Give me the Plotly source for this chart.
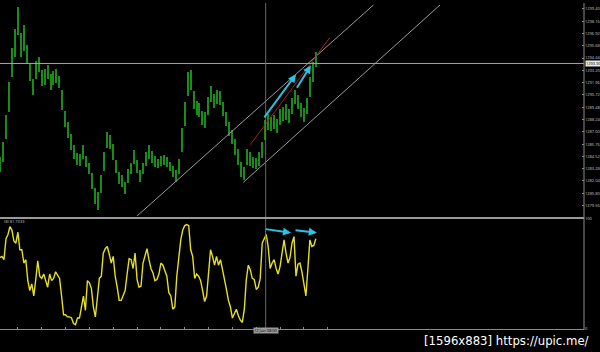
import plotly.graph_objects as go

# ---- price bars (high / low), one bar every 3 time units ----
high = [1284.5, 1286.0, 1288.7, 1292.0, 1295.5, 1297.4, 1299.6, 1297.0, 1297.8, 1295.8,
        1293.9, 1292.3, 1294.1, 1294.6, 1293.2, 1293.3, 1293.7, 1292.8, 1293.1, 1293.3,
        1292.6, 1291.2, 1289.1, 1288.0, 1286.8, 1285.7, 1284.9, 1284.8, 1285.7, 1284.6,
        1283.9, 1282.8, 1281.3, 1280.9, 1282.6, 1285.0, 1287.0, 1286.7, 1285.8, 1284.2,
        1282.9, 1282.6, 1281.9, 1283.2, 1283.9, 1285.2, 1284.2, 1283.1, 1283.9, 1285.0,
        1285.7, 1285.1, 1284.6, 1284.3, 1284.6, 1284.7, 1284.5, 1284.0, 1283.6, 1283.1,
        1284.3, 1287.4, 1290.0, 1293.0, 1293.2, 1291.1, 1290.1, 1289.9, 1289.1, 1289.0,
        1290.5, 1291.6, 1290.8, 1291.2, 1291.1, 1290.0, 1289.0, 1288.0, 1287.2, 1286.3,
        1285.3, 1284.0, 1283.5, 1285.3, 1285.0, 1284.5, 1284.4, 1285.0, 1286.0, 1288.2,
        1288.8, 1288.5, 1288.7, 1288.3, 1289.3, 1289.5, 1289.8, 1289.3, 1290.4, 1291.2,
        1290.7, 1289.9, 1289.4, 1290.4, 1292.5, 1294.0, 1295.1]
low = [1282.9, 1284.0, 1286.3, 1289.0, 1292.5, 1294.6, 1296.8, 1294.6, 1295.2, 1293.8,
       1292.1, 1290.7, 1292.3, 1293.0, 1291.6, 1291.7, 1292.3, 1291.2, 1291.7, 1291.9,
       1291.4, 1289.2, 1287.5, 1286.4, 1285.2, 1284.3, 1283.7, 1283.6, 1284.3, 1283.4,
       1282.7, 1281.2, 1279.7, 1279.1, 1280.8, 1283.0, 1285.4, 1285.3, 1284.2, 1282.8,
       1281.7, 1281.4, 1280.7, 1281.8, 1282.7, 1283.8, 1282.8, 1281.9, 1282.7, 1283.6,
       1284.3, 1283.9, 1283.4, 1283.3, 1283.6, 1283.7, 1283.5, 1283.0, 1282.4, 1281.9,
       1282.7, 1285.0, 1287.6, 1290.6, 1291.2, 1289.3, 1288.7, 1288.5, 1287.7, 1287.4,
       1288.7, 1290.0, 1289.4, 1289.8, 1289.7, 1288.6, 1287.6, 1286.6, 1285.8, 1284.7,
       1283.7, 1282.4, 1282.1, 1283.7, 1283.6, 1283.3, 1283.2, 1283.6, 1284.4, 1286.2,
       1287.2, 1287.1, 1287.3, 1286.9, 1287.7, 1288.1, 1288.2, 1287.9, 1288.8, 1289.8,
       1289.3, 1288.5, 1288.0, 1288.8, 1290.5, 1292.0, 1293.5]
price_step = 3
price_x = [i * price_step for i in range(len(high))]

# ---- oscillator (0..100), one value every 2 time units ----
osc = [65, 66, 63, 82, 86, 93, 90, 80, 78, 88,
       72, 72, 60, 63, 44, 35, 41, 30, 45, 62,
       48, 46, 50, 44, 38, 50, 44, 46, 52, 49,
       46, 30, 13, 13, 11, 11, 10, 5, 4, 10,
       10, 20, 30, 17, 44, 42, 37, 20, 11, 28,
       46, 48, 69, 73, 75, 68, 60, 66, 48, 38,
       26, 26, 30, 35, 50, 64, 63, 55, 69, 45,
       38, 39, 60, 68, 73, 63, 55, 51, 44, 45,
       50, 60, 58, 53, 48, 33, 30, 18, 20, 48,
       66, 81, 90, 94, 95, 94, 72, 66, 46, 50,
       48, 44, 35, 25, 30, 55, 72, 66, 58, 66,
       58, 63, 55, 46, 36, 26, 20, 10, 14, 18,
       12, 8, 6, 18, 45, 58, 54, 46, 45, 36,
       38, 46, 78, 82, 86, 75, 55, 60, 63, 55,
       50, 57, 70, 81, 69, 60, 65, 78, 84, 48,
       59, 60, 52, 42, 30, 55, 81, 75, 76, 82]
osc_step = 2
osc_x = [i * osc_step for i in range(len(osc))]

# ---- axes / labels ----
price_ticks = [1299.40, 1298.16, 1296.92, 1295.68, 1294.44, 1293.20, 1291.96, 1290.72, 1289.48,
               1288.24, 1287.00, 1285.76, 1284.52, 1283.28, 1282.04, 1280.80, 1279.56]
price_tick_text = ["%.2f" % v for v in price_ticks]
osc_ticks = [0, 100]
osc_tick_text = ["0", "100"]
time_ticks = [18, 42, 66, 90, 114, 138, 162, 186, 210, 234, 258, 282, 306, 330]
current_price = 1293.90
marker_bar = 267.5
osc_label = "(8) 81.7333"
time_label = "12 Jun 08:00"
watermark = "[1596x883] https://upic.me/"

# ---- drawn objects (time, price) ----
upper_channel_x = [138, 376]
upper_channel_y = [1278.5, 1299.8]
lower_channel_x = [245, 443]
lower_channel_y = [1281.9, 1299.8]
red_line_x = [252, 332]
red_line_y = [1285.7, 1296.5]
price_arrows = [((265, 1288.3), (298, 1292.8)), ((298, 1291.3), (313, 1293.7))]
osc_arrows = [((266, 91.0), (293, 87.5)), ((296, 90.0), (319, 87.5))]

GREEN = "#1a8c1a"
YELLOW = "#e6e01e"
CYAN = "#28c4e0"
GRAY = "#8c8c8c"

fig = go.Figure()
fig.add_trace(go.Bar(x=price_x, y=[h - l for h, l in zip(high, low)], base=low,
                     width=1.3, marker=dict(color=GREEN, line=dict(width=0)),
                     xaxis="x", yaxis="y", hoverinfo="skip"))
for xs, ys, col in [(upper_channel_x, upper_channel_y, "#9a9a9a"),
                    (lower_channel_x, lower_channel_y, "#9a9a9a"),
                    (red_line_x, red_line_y, "#a82020")]:
    fig.add_trace(go.Scatter(x=xs, y=ys, mode="lines", line=dict(color=col, width=1),
                             xaxis="x", yaxis="y", hoverinfo="skip"))
fig.add_trace(go.Scatter(x=osc_x, y=osc, mode="lines", line=dict(color=YELLOW, width=1.4),
                         xaxis="x", yaxis="y2", hoverinfo="skip"))

for (tx, ty), (hx, hy) in price_arrows:
    fig.add_annotation(x=hx, y=hy, ax=tx, ay=ty, xref="x", yref="y", axref="x", ayref="y",
                       text="", showarrow=True, arrowhead=2, arrowsize=0.8,
                       arrowwidth=2, arrowcolor=CYAN)
for (tx, ty), (hx, hy) in osc_arrows:
    fig.add_annotation(x=hx, y=hy, ax=tx, ay=ty, xref="x", yref="y2", axref="x", ayref="y2",
                       text="", showarrow=True, arrowhead=2, arrowsize=0.8,
                       arrowwidth=2, arrowcolor=CYAN)

# current price line + label
fig.add_shape(type="line", xref="paper", x0=0, x1=1, yref="y", y0=current_price, y1=current_price,
              line=dict(color="#a8a8a8", width=1))
fig.add_annotation(xref="paper", x=1.002, xanchor="left", yref="y", y=current_price,
                   text="%.2f" % current_price, showarrow=False, bgcolor="#e8e8e8",
                   font=dict(size=4, color="black"), borderpad=0)
# vertical crosshair
fig.add_shape(type="line", xref="x", x0=marker_bar, x1=marker_bar, yref="paper", y0=0, y1=1,
              line=dict(color="#6a6a6a", width=1))
fig.add_annotation(xref="x", x=marker_bar, yref="paper", y=0.0, yanchor="middle",
                   text=time_label, showarrow=False, bgcolor="#9a9a9a",
                   font=dict(size=4, color="black"), borderpad=0)
# pane separator and right axis line
fig.add_shape(type="line", xref="paper", x0=0, x1=1, yref="paper", y0=0.3424, y1=0.3424,
              line=dict(color="#9a9a9a", width=2))
fig.add_shape(type="line", xref="paper", x0=1, x1=1, yref="paper", y0=0, y1=1,
              line=dict(color=GRAY, width=1))

fig.add_annotation(xref="paper", x=0.004, xanchor="left", yref="paper", y=0.331, yanchor="middle",
                   text=osc_label, showarrow=False, font=dict(size=4, color="#c8c8c8"))
fig.add_annotation(xref="paper", x=1.0119, xanchor="right", yref="paper", y=-0.0333,
                   yanchor="middle", text=watermark, showarrow=False,
                   font=dict(size=13, color="white", family="DejaVu Sans Condensed"))

fig.update_layout(
    width=600, height=352, margin=dict(l=0, r=12, t=0, b=22),
    paper_bgcolor="black", plot_bgcolor="black", showlegend=False, bargap=0,
    xaxis=dict(range=[0, 588], anchor="y2", showgrid=False, zeroline=False,
               showticklabels=False, ticks="inside", ticklen=2, tickcolor=GRAY,
               tickvals=time_ticks, showline=True, linecolor=GRAY, linewidth=1),
    yaxis=dict(domain=[0.3485, 1], range=[1278.5, 1300.0], side="right", anchor="x",
               showgrid=False, zeroline=False, tickvals=price_ticks, ticktext=price_tick_text,
               ticks="inside", ticklen=2, tickcolor=GRAY,
               tickfont=dict(size=4, color="#c8c8c8")),
    yaxis2=dict(domain=[0.00303, 0.33939], range=[0, 100], side="right", anchor="x",
                showgrid=False, zeroline=False, tickvals=osc_ticks, ticktext=osc_tick_text,
                ticks="inside", ticklen=2, tickcolor=GRAY,
                tickfont=dict(size=4, color="#c8c8c8")),
)

fig.write_html("out.html")
